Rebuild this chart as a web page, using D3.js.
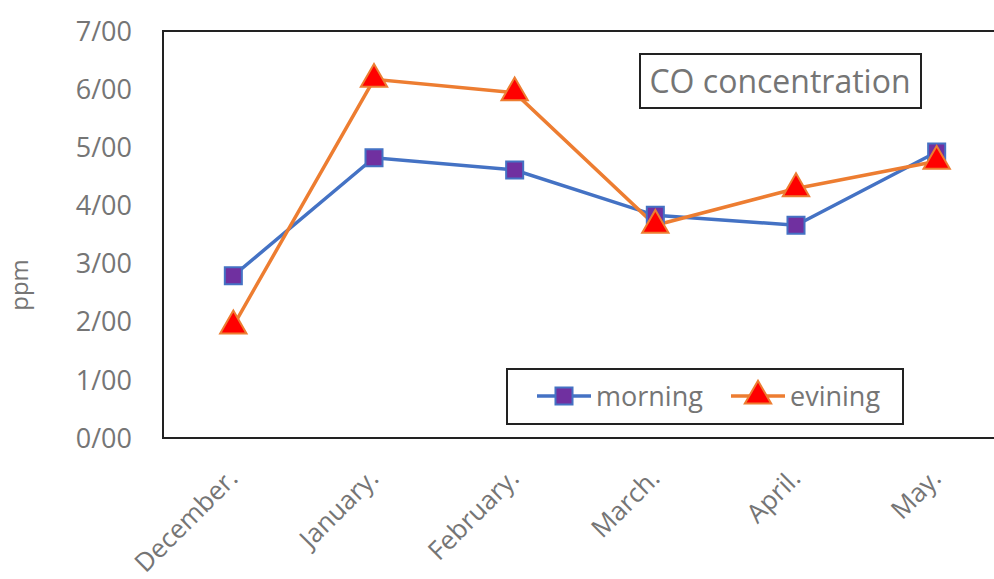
<!DOCTYPE html>
<html>
<head>
<meta charset="utf-8">
<script src="https://cdn.jsdelivr.net/npm/d3@7"></script>
<style>
  body { margin: 0; background: #fff; }
  text { font-family: "Open Sans", sans-serif; fill: #757575; }
</style>
</head>
<body>
<div id="vis"></div>
<script>
const months = ["December.", "January.", "February.", "March.", "April.", "May."];
const morning = [2.79, 4.82, 4.61, 3.83, 3.66, 4.92];
const evening = [1.93, 6.17, 5.94, 3.66, 4.29, 4.76];
const yTicks = [0, 1, 2, 3, 4, 5, 6, 7];

const blue = "#4472C4", purple = "#7030A0", orange = "#ED7D31", red = "#FF0000";

function chart() {
    const width = 994, height = 579;
    const margin = {left: 163, top: 31, right: -13, bottom: 141};

    const svg = d3.select("#vis")
        .append("svg")
        .attr("width", width)
        .attr("height", height);

    const x = d3.scalePoint()
        .domain(months)
        .range([margin.left, width - margin.right])
        .padding(0.5);

    const y = d3.scaleLinear()
        .domain([0, 7])
        .range([height - margin.bottom, margin.top]);

    // frame
    svg.append("path")
        .attr("d", `M${width + 5},${margin.top}H${margin.left}V${y(0)}H${width + 5}`)
        .attr("fill", "none")
        .attr("stroke", "#222")
        .attr("stroke-width", 2);

    // y tick labels
    svg.selectAll(".ytick")
        .data(yTicks)
        .join("text")
            .attr("class", "ytick")
            .attr("x", 132)
            .attr("y", d => y(d))
            .attr("dy", "0.36em")
            .attr("text-anchor", "end")
            .style("font-size", "27px")
            .text(d => d + "/00");

    svg.append("text")
        .attr("transform", "translate(28,285) rotate(-90)")
        .attr("text-anchor", "middle")
        .style("font-size", "24px")
        .text("ppm");

    // x tick labels
    svg.selectAll(".xtick")
        .data(months)
        .join("text")
            .attr("class", "xtick")
            .attr("transform", d => `translate(${x(d) + 6},${y(0) + 42}) rotate(-45)`)
            .attr("text-anchor", "end")
            .style("font-size", "26px")
            .text(d => d);

    const line = d3.line()
        .x((d, i) => x(months[i]))
        .y(d => y(d));

    svg.append("path")
        .datum(morning)
        .attr("d", line)
        .attr("fill", "none")
        .attr("stroke", blue)
        .attr("stroke-width", 3.5);

    svg.append("path")
        .datum(evening)
        .attr("d", line)
        .attr("fill", "none")
        .attr("stroke", orange)
        .attr("stroke-width", 3.5);

    const square = d3.symbol().type(d3.symbolSquare).size(290);
    const triangle = d3.symbol().type(d3.symbolTriangle).size(300);

    svg.selectAll(".sq")
        .data(morning)
        .join("path")
            .attr("class", "sq")
            .attr("transform", (d, i) => `translate(${x(months[i])},${y(d)})`)
            .attr("d", square)
            .attr("fill", purple)
            .attr("stroke", blue)
            .attr("stroke-width", 2);

    svg.selectAll(".tri")
        .data(evening)
        .join("path")
            .attr("class", "tri")
            .attr("transform", (d, i) => `translate(${x(months[i])},${y(d)})`)
            .attr("d", triangle)
            .attr("fill", red)
            .attr("stroke", orange)
            .attr("stroke-width", 2);

    // title box
    svg.append("rect")
        .attr("x", 640).attr("y", 54)
        .attr("width", 281).attr("height", 54)
        .attr("fill", "#fff")
        .attr("stroke", "#222")
        .attr("stroke-width", 2);
    svg.append("text")
        .attr("x", 780).attr("y", 93)
        .attr("text-anchor", "middle")
        .style("font-size", "32px")
        .text("CO concentration");

    // legend
    const lg = svg.append("g").attr("transform", "translate(507,369)");
    lg.append("rect")
        .attr("width", 396).attr("height", 55)
        .attr("fill", "#fff")
        .attr("stroke", "#222")
        .attr("stroke-width", 2);
    const items = [
        {name: "morning", stroke: blue, fill: purple, sym: square, x0: 30},
        {name: "evining", stroke: orange, fill: red, sym: triangle, x0: 224}
    ];
    const li = lg.selectAll(".li")
        .data(items)
        .join("g")
            .attr("class", "li")
            .attr("transform", d => `translate(${d.x0},27)`);
    li.append("line")
        .attr("x1", 0).attr("x2", 54)
        .attr("stroke", d => d.stroke)
        .attr("stroke-width", 3.5);
    li.append("path")
        .attr("transform", "translate(27,0)")
        .attr("d", d => d.sym())
        .attr("fill", d => d.fill)
        .attr("stroke", d => d.stroke)
        .attr("stroke-width", 2);
    li.append("text")
        .attr("x", 59)
        .attr("dy", "0.36em")
        .style("font-size", "27px")
        .text(d => d.name);
}

chart();
</script>
</body>
</html>
